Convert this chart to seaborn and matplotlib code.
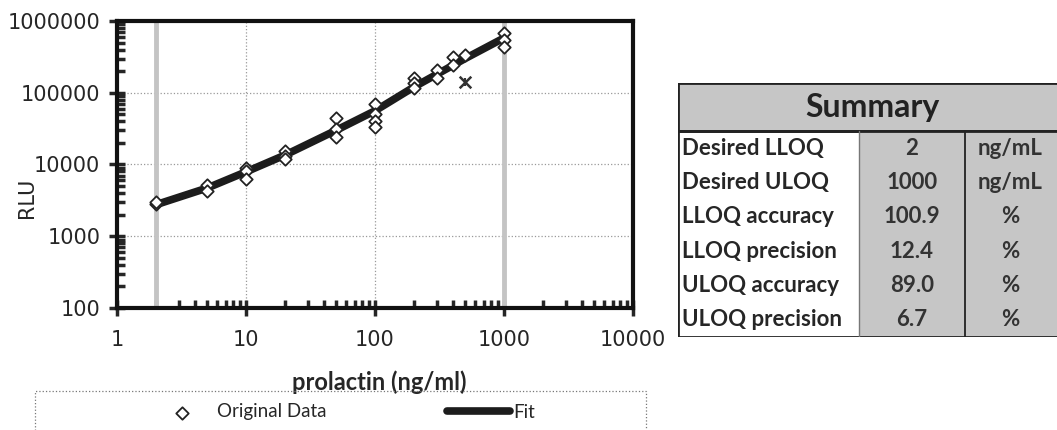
#-- standard curve for prolactin assay, with summary table --

import pandas as pd
import matplotlib.pyplot as plt
import matplotlib.ticker as mticker
from matplotlib.patches import Rectangle
import numpy as np
import seaborn as sns

sns.set_style("white")
plt.rcParams.update({'font.family': ['Lato', 'DejaVu Sans'],
                     'axes.linewidth': 3})

#--data--
conc = [2, 2, 5, 5, 10, 10, 10, 20, 20, 20, 50, 50, 50,
        100, 100, 100, 100, 200, 200, 200, 300, 300, 400, 400, 500,
        1000, 1000, 1000]
rlu = [2800, 3000, 5200, 4300, 9000, 8000, 6200, 15500, 13000, 12000, 45000, 31000, 24500,
       70000, 50000, 41000, 33000, 160000, 135000, 115000, 210000, 160000, 310000, 245000, 340000,
       680000, 550000, 440000]
outlier_conc = [500]
outlier_rlu = [140000]
fit_conc = [2, 5, 10, 20, 50, 100, 200, 300, 400, 500, 1000]
fit_rlu = [2750, 4700, 7900, 13500, 30000, 56000, 120000, 180000, 240000, 300000, 580000]
lloq, uloq = 2, 1000

table_labels = ['Desired LLOQ', 'Desired ULOQ', 'LLOQ accuracy', 'LLOQ precision',
                'ULOQ accuracy', 'ULOQ precision']
table_values = ['2', '1000', '100.9', '12.4', '89.0', '6.7']
table_units = ['ng/mL', 'ng/mL', '%', '%', '%', '%']

W, H = 1057, 430
fig = plt.figure(figsize=(W / 100, H / 100), dpi=100)
ax = fig.add_axes([117 / W, 1 - 308 / H, (633 - 117) / W, (308 - 21) / H])

df = pd.DataFrame({'conc': conc, 'rlu': rlu})
df_fit = pd.DataFrame({'conc': fit_conc, 'rlu': fit_rlu})

ax.axvline(lloq, color='#c4c4c4', lw=3.5, zorder=1.5)
ax.axvline(uloq, color='#c4c4c4', lw=3.5, zorder=1.5)
sns.lineplot(x='conc', y='rlu', data=df_fit, ax=ax, color='#1c1c1c', lw=5.5,
             label='Fit', zorder=3)
sns.scatterplot(x='conc', y='rlu', data=df, ax=ax, marker='D', s=40,
                facecolor='white', edgecolor='#222222', linewidth=1.3,
                label='Original Data', zorder=4)
# outlier drawn as an x with a bar through it
sns.scatterplot(x=outlier_conc, y=outlier_rlu, ax=ax, marker='x', s=70,
                color='#333333', linewidth=1.8, zorder=4)
sns.scatterplot(x=outlier_conc, y=outlier_rlu, ax=ax, marker='|', s=40,
                color='#333333', linewidth=1.5, zorder=4)

ax.set_xscale('log')
ax.set_yscale('log')
ax.set_xlim(1, 10000)
ax.set_ylim(100, 1000000)
fmt = mticker.FuncFormatter(lambda v, p: f'{v:.0f}')
ax.xaxis.set_major_formatter(fmt)
ax.yaxis.set_major_formatter(fmt)
ax.xaxis.set_minor_locator(mticker.LogLocator(base=10, subs=np.arange(2, 10)))
ax.yaxis.set_minor_locator(mticker.LogLocator(base=10, subs=np.arange(2, 10)))
ax.xaxis.set_minor_formatter(mticker.NullFormatter())
ax.yaxis.set_minor_formatter(mticker.NullFormatter())
ax.tick_params(which='major', direction='inout', length=12, width=2.5,
               labelsize=15, pad=10, left=True, bottom=True)
ax.tick_params(axis='y', which='major', pad=6)
ax.tick_params(which='minor', direction='in', length=6, width=2.5, left=True, bottom=True)
for lab in ax.get_xticklabels() + ax.get_yticklabels():
    lab.set_fontfamily(['DejaVu Sans'])
ax.grid(True, which='major', color='#999999', ls=':', lw=0.9)
for s in ax.spines.values():
    s.set_color('#111111')
    s.set_linewidth(3)
ax.set_xlabel('prolactin (ng/ml)', fontsize=17, fontweight='bold', va='top')
ax.xaxis.set_label_coords((379 - 117) / 516, (308 - 370) / 287)
ax.set_ylabel('RLU', fontsize=15, fontfamily=['DejaVu Sans'])
ax.yaxis.set_label_coords((37 - 117) / 516, (308 - 198) / 287)

#--legend in a dotted box below the plot--
handles, labels = ax.get_legend_handles_labels()
ax.get_legend().remove()
order = [labels.index('Original Data'), labels.index('Fit')]
fig.legend([handles[i] for i in order], [labels[i] for i in order], ncol=2,
           loc='center left', bbox_to_anchor=(151 / W, 1 - 412 / H), frameon=False,
           fontsize=13.5, handlelength=3.35, handletextpad=0.18, columnspacing=6.4,
           borderpad=0, borderaxespad=0)
fig.patches.append(Rectangle((35 / W, -0.1), (646 - 35) / W, 0.1 + 1 - 391 / H,
                             transform=fig.transFigure, fill=False, ls=':',
                             ec='#777777', lw=0.9))

#--summary table--
x0, x1, x2, x3 = 678, 859, 965, 1066
y0, yh, y1 = 83, 131, 337
tax = fig.add_axes([x0 / W, 1 - y1 / H, (x3 - x0) / W, (y1 - y0) / H])
tax.set_xlim(x0, x3)
tax.set_ylim(y1, y0)
tax.axis('off')
gray = '#c6c6c6'
tax.add_patch(Rectangle((x0, y0), x3 - x0, yh - y0, fc=gray, ec='#222222', lw=2))
tax.add_patch(Rectangle((x1, yh), x3 - x1, y1 - yh, fc=gray, ec='none'))
tax.add_patch(Rectangle((x0, yh), x3 - x0, y1 - yh, fill=False, ec='#222222', lw=2))
tax.plot([x1, x1], [yh, y1], color='#777777', lw=1)
tax.plot([x2, x2], [yh, y1], color='#222222', lw=1.3)
tax.text(872, (y0 + yh) / 2 + 1, 'Summary', ha='center', va='center',
         fontsize=23, fontweight='bold', color='#222222')
rh = (y1 - yh) / len(table_labels)
for i, (lab, val, unit) in enumerate(zip(table_labels, table_values, table_units)):
    yc = yh + rh * (i + 0.5)
    tax.text(x0 + 4, yc, lab, ha='left', va='center', fontsize=16, fontweight='bold')
    tax.text((x1 + x2) / 2, yc, val, ha='center', va='center', fontsize=16,
             fontweight='bold', color='#333333')
    tax.text(1010, yc, unit, ha='center', va='center', fontsize=16,
             fontweight='bold', color='#333333')

plt.savefig('out.png', dpi=100)
